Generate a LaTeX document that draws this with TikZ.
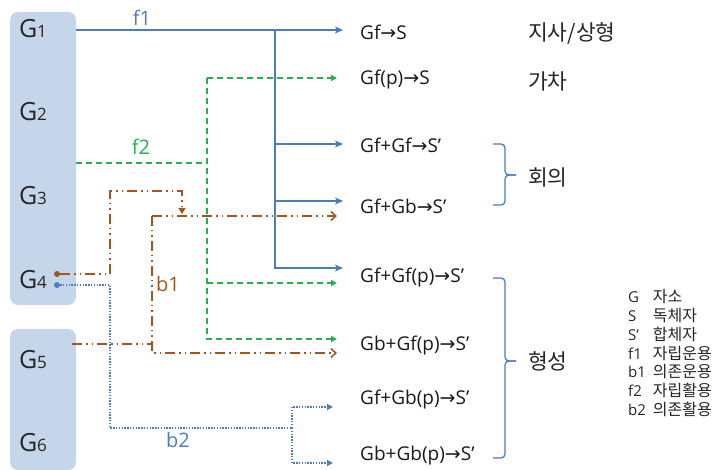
\documentclass[tikz,border=0pt]{standalone}
\usepackage{array}
\usepackage{fontspec}
\setmainfont{Open Sans}
\newfontfamily\kr{Noto Sans CJK KR}
\newfontfamily\arrfont{DejaVu Sans}
\usetikzlibrary{arrows.meta}
\definecolor{fblue}{HTML}{4A7EBB}
\definecolor{fgreen}{HTML}{22B14C}
\definecolor{bbrown}{HTML}{A0561E}
\definecolor{grpfill}{HTML}{C5D5EA}
\newcommand{\gsub}[2]{#1{\fontsize{17}{17}\selectfont #2}}
\newcommand{\ra}{{\arrfont →}}
\tikzset{
  grp/.style={fill=grpfill,rounded corners=8pt,minimum width=66pt,inner sep=0},
  gname/.style={font=\fontsize{25}{25}\selectfont,text=black!85},
  row/.style={anchor=west,inner sep=0,font=\fontsize{19}{19}\selectfont,text=black!90},
  kor/.style={anchor=west,inner sep=0,font=\kr\fontsize{21.5}{21.5}\selectfont,text=black!85},
  lbl/.style={inner sep=0,font=\fontsize{20}{20}\selectfont},
  dot/.style={circle,inner sep=0,minimum size=6pt},
  f1line/.style={fblue,line width=1.4pt,shorten >=17pt,-{Stealth[length=8pt,width=7pt,inset=2pt]}},
  f2line/.style={fgreen,line width=1.5pt,dash pattern=on 6pt off 4pt,shorten >=23pt,-{Triangle[length=6pt,width=6pt]}},
  b1line/.style={bbrown,line width=1.5pt,dash pattern=on 10pt off 4pt on 1.5pt off 4pt on 1.5pt off 4pt,shorten >=23pt,-{Straight Barb[length=5pt,width=9pt]}},
  b2line/.style={fblue,line width=1.4pt,dash pattern=on 1.4pt off 1.4pt,shorten >=27pt,-{Triangle[length=6pt,width=6pt]}},
  plain/.style={shorten >=0pt,-},
  brc/.style={fblue,line width=1.3pt,rounded corners=4pt}
}
\begin{document}
\begin{tikzpicture}[x=1pt,y=-1pt]
  \useasboundingbox (0,0) rectangle (721,470);
  % groups
  \node[grp,minimum height=293pt] (grpA) at (43,158.5) {};
  \node[grp,minimum height=141pt] (grpB) at (43,399.5) {};
  \node[gname] (g1) at (33,29) {\gsub{G}{1}};
  \node[gname] (g2) at (33,112) {\gsub{G}{2}};
  \node[gname] (g3) at (33,196) {\gsub{G}{3}};
  \node[gname] (g4) at (33,280) {\gsub{G}{4}};
  \node[gname] (g5) at (33,360) {\gsub{G}{5}};
  \node[gname] (g6) at (33,443) {\gsub{G}{6}};

  % results
  \node[row] (t1) at (360,32) {Gf\ra S};
  \node[row] (t2) at (360,80) {Gf(p)\ra S};
  \node[row] (t3) at (360,145) {Gf+Gf\ra S’};
  \node[row] (t4) at (360,206) {Gf+Gb\ra S’};
  \node[row] (t5) at (360,278) {Gf+Gf(p)\ra S’};
  \node[row] (t6) at (360,346) {Gb+Gf(p)\ra S’};
  \node[row] (t7) at (360,400) {Gf+Gb(p)\ra S’};
  \node[row] (t8) at (360,456) {Gb+Gb(p)\ra S’};
  \node[kor] (k1) at (528,33) {지사/상형};
  \node[kor] (k2) at (528,81) {가차};
  \node[kor] (k3) at (528,177) {회의};
  \node[kor] (k4) at (528,361) {형성};
  \draw[brc] (493,144) -| (505,175) -- (516,175);
  \draw[brc] (493,205) -| (505,175) -- (516,175);
  \draw[brc] (493,278) -| (505,361) -- (516,361);
  \draw[brc] (493,458) -| (505,361) -- (516,361);

  % f1
  \coordinate (f1s) at (76,30);
  \coordinate (f1v) at (275,30);
  \coordinate (f1c) at (275,144);
  \coordinate (f1d) at (275,201);
  \coordinate (f1e) at (275,268);
  \draw[f1line] (f1s) -- (f1s -| t1.west);
  \draw[f1line] (f1v) |- (f1e -| t5.west);
  \draw[f1line] (f1c) -- (f1c -| t3.west);
  \draw[f1line] (f1d) -- (f1d -| t4.west);
  \node[lbl,text=fblue] (lf1) at (142,18) {f1};

  % f2
  \coordinate (f2s) at (76,163);
  \coordinate (f2j) at (207,163);
  \coordinate (f2t) at (207,78);
  \coordinate (f2m) at (207,283);
  \coordinate (f2b) at (207,339);
  \draw[f2line,plain] (f2s) -- (f2j);
  \draw[f2line] (f2t) -- (f2t -| t2.west);
  \draw[f2line] (f2t) |- (f2b -| t6.west);
  \draw[f2line] (f2m) -- (f2m -| t5.west);
  \node[lbl,text=fgreen] (lf2) at (141,147) {f2};

  % b1
  \node[dot,fill=bbrown] (d4b) at (57,274) {};
  \coordinate (b1k1) at (110,191);
  \coordinate (b1tip) at (182,214);
  \coordinate (b1u) at (152,216);
  \coordinate (b1d) at (152,353);
  \coordinate (b1g5) at (72,344);
  \draw[b1line,shorten >=0pt,-{Triangle[length=6pt,width=7pt]}] (d4b) -| (b1k1) -| (b1tip);
  \draw[b1line] (b1u) -- (b1u -| t4.west);
  \draw[b1line] (b1u) |- (b1d -| t6.west);
  \draw[b1line,plain] (b1g5) -- (b1g5 -| b1u);
  \node[lbl,text=bbrown] (lb1) at (168,284) {b1};

  % b2
  \node[dot,fill=fblue] (d4f) at (57,285) {};
  \coordinate (b2k1) at (110,428);
  \coordinate (b2j) at (292,428);
  \coordinate (b2t) at (292,407);
  \coordinate (b2b) at (292,463);
  \draw[b2line,plain] (d4f) -| (b2k1) -- (b2j);
  \draw[b2line] (b2j) |- (b2t -| t7.west);
  \draw[b2line] (b2j) |- (b2b -| t8.west);
  \node[lbl,text=fblue] (lb2) at (178,440) {b2};

  % key
  \node[anchor=north west,inner sep=0,font=\fontsize{15}{18.7}\selectfont,text=black!85] (key) at (628,289)
    {\begin{tabular}{@{}l@{\hspace{7pt}}>{\kr\fontsize{16}{18.7}\selectfont}l@{}}
      G & 자소\\
      S & 독체자\\
      S’ & 합체자\\
      f1 & 자립운용\\
      b1 & 의존운용\\
      f2 & 자립활용\\
      b2 & 의존활용
    \end{tabular}};
\end{tikzpicture}
\end{document}
